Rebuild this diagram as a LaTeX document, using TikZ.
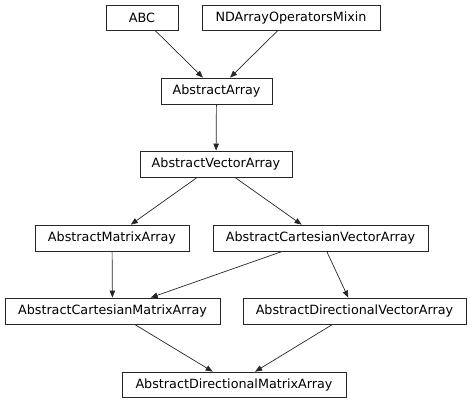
\documentclass[tikz,border=0pt]{standalone}
\usepackage{fontspec}
\setmainfont{DejaVu Sans}
\usetikzlibrary{arrows.meta}
\begin{document}
\begin{tikzpicture}[x=1bp,y=-1bp,
  cls/.style={draw=black!85,line width=0.8bp,inner sep=0pt,font=\fontsize{12.8}{14}\selectfont,fill=white},
  arr/.style={draw=black!85,line width=0.7bp,-{Triangle[length=7bp,width=5.5bp]}}]
\useasboundingbox (0,0) rectangle (472,403);
\node[cls,minimum width=72bp,minimum height=25bp] (abc) at (142,17.5) {ABC};
\node[cls,minimum width=178bp,minimum height=25bp] (nda) at (291,17.5) {NDArrayOperatorsMixin};
\node[cls,minimum width=111bp,minimum height=26bp] (aa) at (216.5,91) {AbstractArray};
\node[cls,minimum width=152bp,minimum height=26bp] (ava) at (216,164) {AbstractVectorArray};
\node[cls,minimum width=154bp,minimum height=26bp] (ama) at (112,238) {AbstractMatrixArray};
\node[cls,minimum width=215bp,minimum height=26bp] (acva) at (320.5,238) {AbstractCartesianVectorArray};
\node[cls,minimum width=215bp,minimum height=26bp] (acma) at (112.5,311) {AbstractCartesianMatrixArray};
\node[cls,minimum width=223bp,minimum height=26bp] (adva) at (354.5,311) {AbstractDirectionalVectorArray};
\node[cls,minimum width=224bp,minimum height=25bp] (adma) at (234,384.5) {AbstractDirectionalMatrixArray};
\draw[arr] (abc) -- (aa);
\draw[arr] (nda) -- (aa);
\draw[arr] (aa) -- (ava);
\draw[arr] (ava) -- (ama);
\draw[arr] (ava) -- (acva);
\draw[arr] (ama) -- (acma);
\draw[arr] (acva) -- (acma);
\draw[arr] (acva) -- (adva);
\draw[arr] (acma) -- (adma);
\draw[arr] (adva) -- (adma);
\end{tikzpicture}
\end{document}
